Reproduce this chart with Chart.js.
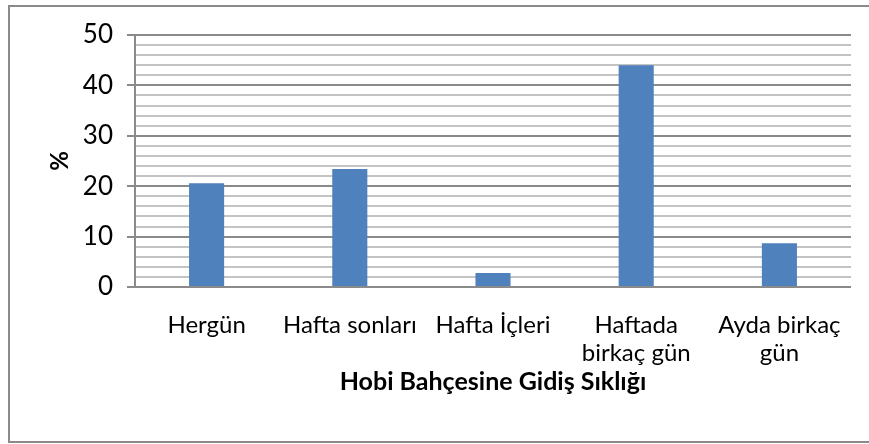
<!DOCTYPE html>
<html>
<head>
<meta charset="utf-8">
<script src="https://cdn.jsdelivr.net/npm/chart.js@4"></script>
<style>
    html, body { margin: 0; padding: 0; background: #fff; }
    #wrap { position: relative; width: 869px; height: 444px; overflow: hidden; }
    #frame { position: absolute; left: 8px; top: 5px; width: 880px; height: 434px; border: 2px solid #8a8a8a; box-sizing: content-box; pointer-events: none; }
    canvas { position: absolute; left: 0; top: 0; }
</style>
</head>
<body>
<div id="wrap">
    <canvas id="freqChart" width="869" height="444"></canvas>
    <div id="frame"></div>
</div>
<script>
// Hobi bahçesine gidiş sıklığı (%)
const categories = ['Hergün', 'Hafta sonları', 'Hafta İçleri', ['Haftada', 'birkaç gün'], ['Ayda birkaç', 'gün']];
const percentages = [20.6, 23.4, 2.8, 44.0, 8.7];
const yMax = 50;
const yStep = 2;
const yLabelStep = 10;

const FONT = 'Lato, "Open Sans", sans-serif';

const ctx = document.getElementById('freqChart');
new Chart(ctx, {
    type: 'bar',
    data: {
        labels: categories,
        datasets: [{
            data: percentages,
            backgroundColor: '#4F81BD',
            borderWidth: 0,
            barPercentage: 0.245,
            categoryPercentage: 1.0
        }]
    },
    options: {
        responsive: false,
        animation: false,
        layout: {
            padding: { left: 0, top: 35, right: 18, bottom: 0 }
        },
        plugins: {
            legend: { display: false },
            tooltip: { enabled: false }
        },
        scales: {
            x: {
                grid: { display: false },
                border: { display: false },
                ticks: {
                    color: '#000',
                    padding: 16,
                    maxRotation: 0,
                    autoSkip: false,
                    font: { family: FONT, size: 24, lineHeight: 1.17 }
                },
                title: {
                    display: true,
                    text: 'Hobi Bahçesine Gidiş Sıklığı',
                    color: '#000',
                    font: { family: FONT, size: 25, weight: 'bold' },
                    padding: { top: 0, bottom: 47 }
                },
                afterFit: function(scale) {
                    scale.height = 444 - 287;
                }
            },
            y: {
                min: 0,
                max: yMax,
                ticks: {
                    stepSize: yStep,
                    autoSkip: false,
                    color: '#000',
                    padding: 14,
                    font: { family: FONT, size: 26 },
                    callback: function(value) {
                        return value % yLabelStep === 0 ? value : '';
                    }
                },
                grid: {
                    tickLength: 8,
                    lineWidth: 2,
                    color: function(c) {
                        return c.tick && c.tick.value % yLabelStep === 0 ? '#8a8a8a' : '#c4c4c4';
                    },
                    tickColor: function(c) {
                        return c.tick && c.tick.value % yLabelStep === 0 ? '#8a8a8a' : 'rgba(0,0,0,0)';
                    }
                },
                border: { color: '#8a8a8a', width: 2 },
                title: {
                    display: true,
                    text: '%',
                    color: '#000',
                    font: { family: FONT, size: 24, weight: 'bold' },
                    padding: { top: 46, bottom: 0 }
                },
                afterFit: function(scale) {
                    scale.width = 135;
                }
            }
        }
    }
});
</script>
</body>
</html>
